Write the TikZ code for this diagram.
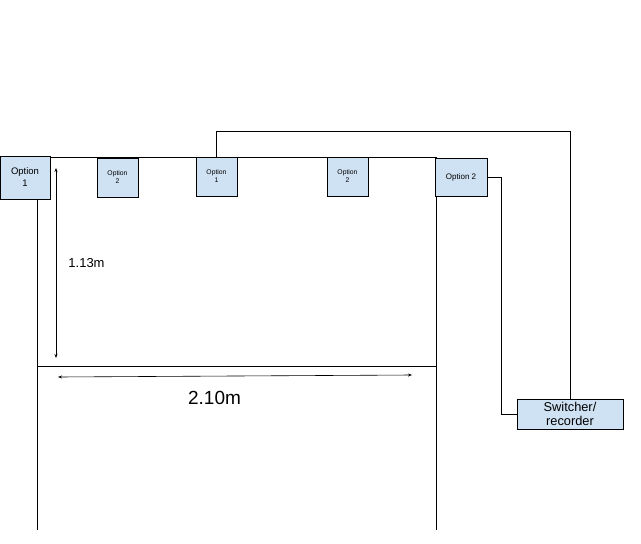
\documentclass[tikz,border=0pt]{standalone}
\usepackage{fontspec}
\setmainfont{Liberation Sans}
\usetikzlibrary{arrows.meta}
\definecolor{boxblue}{HTML}{CFE2F3}
\tikzset{
  cam/.style={draw, fill=boxblue, inner sep=0pt, align=center, line width=0.8pt,
    minimum width=41pt, minimum height=39pt, font=\fontsize{6.8}{8}\selectfont},
  wall/.style={line width=0.8pt},
  dim/.style={line width=0.6pt, {Stealth[length=4pt,width=3pt]}-{Stealth[length=4pt,width=3pt]}}
}

\begin{document}
\begin{tikzpicture}[x=1pt,y=-1pt]
			%%%%% START %%%%%
			\useasboundingbox (0,0) rectangle (641,544);
			
			\draw[wall] (50, 157) -- (436, 157) -- (436, 530);
			\draw[wall] (37, 199) -- (37, 530);
			\draw[wall] (37, 366) -- (437, 366);
			
			\draw[dim] (56, 168) -- (56, 358);
			\draw[dim] (58, 377) -- (412, 375);
			
			\node[font=\fontsize{13}{15}\selectfont] (hgt) at (86.5, 263) {1.13m};
			\node[font=\fontsize{19}{22}\selectfont] (wid) at (214.5, 398) {2.10m};
			
			\node[cam, minimum width=50pt, minimum height=43pt, font=\fontsize{9.5}{12}\selectfont] (opta) at (25, 177.5) {Option\\1};
			\node[cam] (optb) at (117.5, 177.5) {Option\\2};
			\node[cam] (optc) at (216.5, 176.5) {Option\\1};
			\node[cam] (optd) at (347.5, 176.5) {Option\\2};
			\node[cam, minimum width=52pt, minimum height=38pt, font=\fontsize{8}{10}\selectfont] (opte) at (461, 177) {Option 2};
			\node[cam, minimum width=106pt, minimum height=30pt, font=\fontsize{12.8}{14}\selectfont] (rec) at (570, 414) {Switcher/\\recorder};
			
			\draw[wall] (optc.north) -- ++(0, -25) -| (rec.north);
			\draw[wall] (opte.east) -- ++(14, 0) |- (rec.west);
			
			%%%%% END %%%%%
\end{tikzpicture}
\end{document}
